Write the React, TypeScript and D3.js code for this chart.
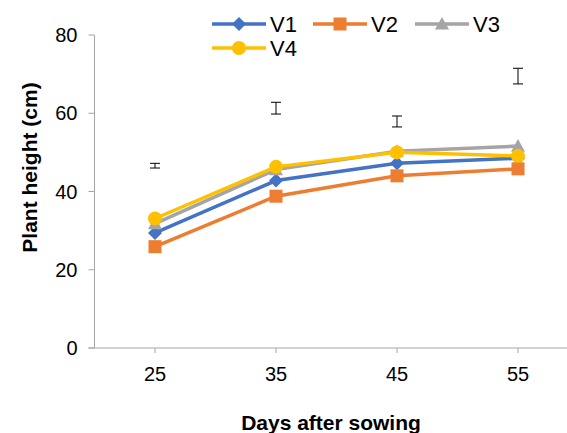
import * as d3 from 'd3'

const days = ['25', '35', '45', '55']
const v1 = [29.4, 42.8, 47.2, 48.5]
const v2 = [25.9, 38.8, 44.0, 45.8]
const v3 = [31.8, 45.6, 50.3, 51.6]
const v4 = [33.1, 46.3, 50.0, 49.1]
const lsdMid = [46.6, 61.3, 57.9, 69.5]
const lsdErr = [0.6, 1.5, 1.4, 2.0]
const yTicks = [0, 20, 40, 60, 80]

const series = [
	{ name: 'V1', values: v1, color: '#4472C4', marker: 'diamond' },
	{ name: 'V2', values: v2, color: '#ED7D31', marker: 'square' },
	{ name: 'V3', values: v3, color: '#A5A5A5', marker: 'triangle' },
	{ name: 'V4', values: v4, color: '#FFC000', marker: 'circle' },
]

const W = 567
const H = 433
const font = '"Liberation Sans", Arial, sans-serif'
const axisColor = '#a6a6a6'

function Marker({ type, x, y, color }: { type: string; x: number; y: number; color: string }) {
	if (type === 'diamond') {
		const s = 7
		return <path d={`M${x},${y - s}L${x + s},${y}L${x},${y + s}L${x - s},${y}Z`} fill={color} />
	}
	if (type === 'square') {
		return <rect x={x - 6.5} y={y - 6.5} width={13} height={13} fill={color} />
	}
	if (type === 'triangle') {
		const s = 7
		return <path d={`M${x},${y - s}L${x + s},${y + s * 0.8}L${x - s},${y + s * 0.8}Z`} fill={color} />
	}
	return <circle cx={x} cy={y} r={7} fill={color} />
}

export default function App() {
	const left = 94.5
	const x = d3.scaleBand<string>().domain(days).range([left, left + 4 * 121])
	const y = d3.scaleLinear().domain([0, 80]).range([348, 35])
	const cx = (d: string) => (x(d) as number) + x.bandwidth() / 2

	const line = d3
		.line<number>()
		.x((_, i) => cx(days[i]))
		.y((v) => y(v))

	const legendPos = [
		{ x: 212, y: 24 },
		{ x: 313, y: 24 },
		{ x: 415, y: 24 },
		{ x: 212, y: 48 },
	]

	return (
		<svg width={W} height={H} style={{ position: 'absolute', left: 0, top: 0, background: '#fff' }} fontFamily={font}>
			{/* y axis */}
			<line x1={left} x2={left} y1={y(80)} y2={y(0)} stroke={axisColor} strokeWidth={1} />
			{yTicks.map((t) => (
				<g key={t}>
					<line x1={left - 6} x2={left} y1={y(t)} y2={y(t)} stroke={axisColor} />
					<text x={left - 17} y={y(t)} dy="0.35em" textAnchor="end" fontSize={20} fill="#000">
						{t}
					</text>
				</g>
			))}
			{/* x axis */}
			<line x1={left - 6} x2={W} y1={y(0)} y2={y(0)} stroke={axisColor} />
			{days.map((d) => (
				<g key={d}>
					<line x1={cx(d)} x2={cx(d)} y1={y(0)} y2={y(0) + 5} stroke={axisColor} />
					<text x={cx(d)} y={381} textAnchor="middle" fontSize={20} fill="#000">
						{d}
					</text>
				</g>
			))}
			<text x={331} y={430} textAnchor="middle" fontSize={21} fontWeight="bold" fill="#000">
				Days after sowing
			</text>
			<text
				transform={`translate(37,${167.5}) rotate(-90)`}
				textAnchor="middle"
				fontSize={21}
				fontWeight="bold"
				fill="#000"
			>
				Plant height (cm)
			</text>
			{/* error bars */}
			{days.map((d, i) => {
				const top = y(lsdMid[i] + lsdErr[i])
				const bot = y(lsdMid[i] - lsdErr[i])
				const c = cx(d)
				return (
					<g key={'e' + d} stroke="#000" strokeWidth={1}>
						<line x1={c} x2={c} y1={top} y2={bot} />
						<line x1={c - 5} x2={c + 5} y1={top} y2={top} />
						<line x1={c - 5} x2={c + 5} y1={bot} y2={bot} />
					</g>
				)
			})}
			{/* series */}
			{series.map((s) => (
				<g key={s.name}>
					<path d={line(s.values) as string} fill="none" stroke={s.color} strokeWidth={3.5} />
					{s.values.map((v, i) => (
						<Marker key={i} type={s.marker} x={cx(days[i])} y={y(v)} color={s.color} />
					))}
				</g>
			))}
			{/* legend */}
			{series.map((s, i) => {
				const p = legendPos[i]
				return (
					<g key={'l' + s.name}>
						<line x1={p.x} x2={p.x + 54} y1={p.y} y2={p.y} stroke={s.color} strokeWidth={3.5} />
						<Marker type={s.marker} x={p.x + 27} y={p.y} color={s.color} />
						<text x={p.x + 58} y={p.y} dy="0.36em" fontSize={22} fill="#000">
							{s.name}
						</text>
					</g>
				)
			})}
		</svg>
	)
}
